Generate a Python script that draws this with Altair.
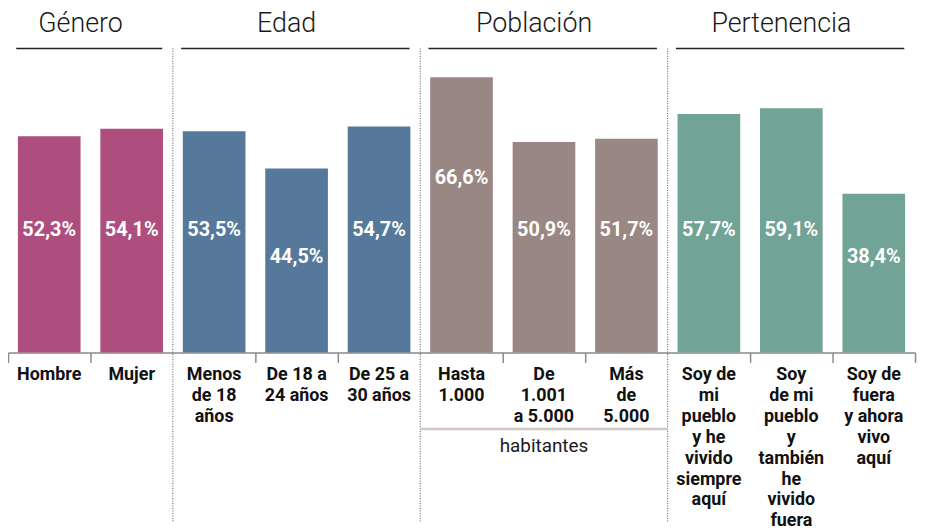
import altair as alt
import pandas as pd

# ---- data ----
groups = ["Género", "Edad", "Población", "Pertenencia"]
group_sizes = [2, 3, 3, 3]
group_colors = ["#ad4e7e", "#56789a", "#998783", "#71a396"]

categories = [
    "Hombre",
    "Mujer",
    "Menos\nde 18\naños",
    "De 18 a\n24 años",
    "De 25 a\n30 años",
    "Hasta\n1.000",
    "De\n1.001\na 5.000",
    "Más\nde\n5.000",
    "Soy de\nmi\npueblo\ny he\nvivido\nsiempre\naquí",
    "Soy\nde mi\npueblo\ny\ntambién\nhe\nvivido\nfuera",
    "Soy de\nfuera\ny ahora\nvivo\naquí",
]
values = [52.3, 54.1, 53.5, 44.5, 54.7, 66.6, 50.9, 51.7, 57.7, 59.1, 38.4]
sub_note = "habitantes"  # note under the Población group

# ---- tables ----
group_of = []
for g, n in zip(groups, group_sizes):
    group_of += [g] * n

df = pd.DataFrame({
    "i": list(range(len(categories))),
    "cat": categories,
    "v": values,
    "group": group_of,
    "lbl": [f"{v:.1f}".replace(".", ",") + "%" for v in values],
})

starts = [sum(group_sizes[:k]) for k in range(len(groups))]
gdf = pd.DataFrame({"group": groups, "start": starts, "n": group_sizes})
sep_df = pd.DataFrame({"s": starts[1:]})
pob = groups.index("Población")
note_df = pd.DataFrame({
    "a": [starts[pob]], "b": [starts[pob] + group_sizes[pob]], "t": [sub_note]
})

N = len(categories)
xscale = alt.Scale(domain=[0, N], nice=False, zero=False)
yscale = alt.Scale(domain=[0, 82.93], nice=False, zero=True)
FONT = "Roboto"
tick_vals = [k for k in range(N + 1) if k not in starts[1:]]

base = alt.Chart(df)

bars = base.transform_calculate(
    xs="datum.i + 0.12", xe="datum.i + 0.88"
).mark_bar().encode(
    x=alt.X("xs:Q", scale=xscale,
            axis=alt.Axis(values=tick_vals, labels=False, title=None, grid=False,
                          tickSize=10, tickColor="#8a8a8a", tickWidth=1.5,
                          domainColor="#8a8a8a", domainWidth=1.5)),
    x2="xe:Q",
    y=alt.Y("v:Q", scale=yscale, axis=None),
    y2=alt.datum(0),
    color=alt.Color("group:N", scale=alt.Scale(domain=groups, range=group_colors), legend=None),
)

vlabels = base.transform_calculate(
    xm="datum.i + 0.5",
    ly="datum.v > 60 ? 42.1 : (datum.v < 47 ? 23.2 : 29.6)",
).mark_text(color="white", font=FONT, fontWeight="bold", fontSize=20,
            baseline="middle").encode(
    x=alt.X("xm:Q", scale=xscale),
    y=alt.Y("ly:Q", scale=yscale),
    text="lbl:N",
)

clabels = base.transform_calculate(xm="datum.i + 0.5").mark_text(
    color="#111111", font=FONT, fontWeight="bold", fontSize=18,
    baseline="top", align="center", lineBreak="\n", lineHeight=21,
).encode(
    x=alt.X("xm:Q", scale=xscale),
    y=alt.value(359),
    text="cat:N",
)

gbase = alt.Chart(gdf)
gtitles = gbase.transform_calculate(xm="datum.start + datum.n / 2").mark_text(
    font=FONT, fontWeight=300, fontSize=27, color="#1a1a1a", baseline="middle", dx=-10,
).encode(
    x=alt.X("xm:Q", scale=xscale),
    y=alt.value(14),
    text="group:N",
)
glines = gbase.transform_calculate(
    a="datum.start + 0.1", b="datum.start + datum.n - 0.13"
).mark_rule(color="#222222", strokeWidth=1.5).encode(
    x=alt.X("a:Q", scale=xscale),
    x2="b:Q",
    y=alt.value(39),
)

seps = alt.Chart(sep_df).mark_rule(
    color="#555555", strokeWidth=1, strokeDash=[1, 1.5]
).encode(
    x=alt.X("s:Q", scale=xscale),
    y=alt.value(39),
    y2=alt.value(516),
)

note_line = alt.Chart(note_df).mark_rule(color="#d2c6c6", strokeWidth=2.5).encode(
    x=alt.X("a:Q", scale=xscale), x2="b:Q", y=alt.value(422)
)
note_text = alt.Chart(note_df).transform_calculate(m="(datum.a + datum.b) / 2").mark_text(
    font=FONT, fontSize=19, color="#1a1a1a", baseline="middle"
).encode(
    x=alt.X("m:Q", scale=xscale), y=alt.value(439), text="t:N"
)

chart = alt.layer(
    seps, bars, vlabels, clabels, gtitles, glines, note_line, note_text
).properties(
    width=913, height=345,
    autosize=alt.AutoSizeParams(type="none"),
    padding={"left": 0, "top": 0, "right": 2, "bottom": 180},
).configure(
    background="white", view=alt.ViewConfig(stroke=None)
)

chart.save("out.html", embed_options={"renderer": "svg", "actions": False})
